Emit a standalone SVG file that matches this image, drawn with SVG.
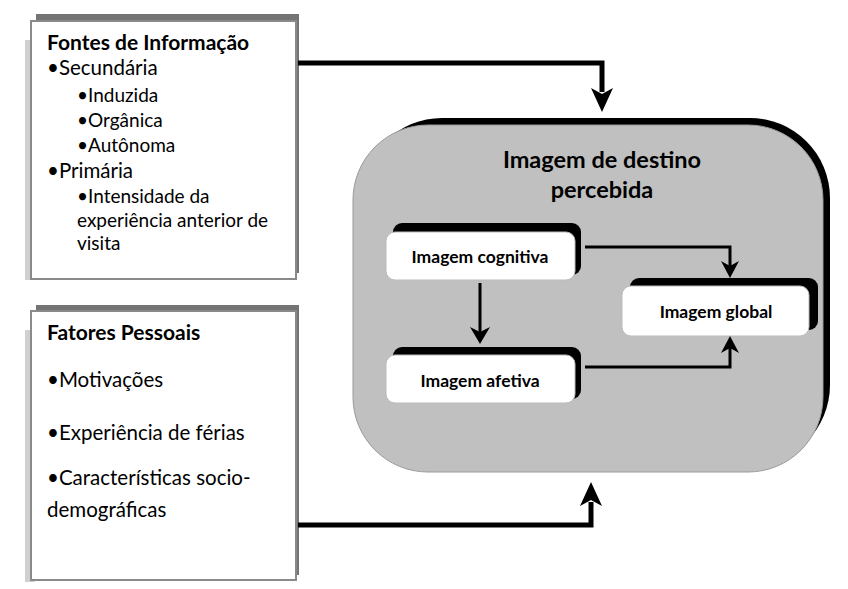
<svg xmlns="http://www.w3.org/2000/svg" width="848" height="589" viewBox="0 0 848 589">
<style>
.t{font-family:Lato,"Liberation Sans",sans-serif;fill:#000}
.b{font-weight:bold}
.sh{fill:#747474}
.lsh{fill:#d0d0d0}
.card{fill:#fff;stroke:#8a8a8a;stroke-width:2}
.blk{fill:#000}
.wbox{fill:#fff;stroke:#bbb;stroke-width:1}
.con{fill:none;stroke:#000;stroke-linejoin:miter}
.l1{font-size:20.5px}
.l2{font-size:19px}
.in{font-size:17.5px;font-weight:bold}
</style>
<rect width="848" height="589" fill="#fff"/>
<g id="fontes">
<rect class="lsh" x="25" y="40" width="10" height="240"/>
<rect class="sh" x="36" y="14" width="263" height="259"/>
<rect class="card" x="31" y="21" width="265" height="258"/>
<text class="t b" x="47" y="50" font-size="21">Fontes de Informação</text>
<text class="t l1" x="47" y="75">•Secundária</text>
<text class="t l2" x="77" y="102">•Induzida</text>
<text class="t l2" x="77" y="127">•Orgânica</text>
<text class="t l2" x="77" y="152">•Autônoma</text>
<text class="t l1" x="47" y="178">•Primária</text>
<text class="t l2" x="77" y="203">•Intensidade da</text>
<text class="t l2" x="77" y="227">experiência anterior de</text>
<text class="t l2" x="77" y="250">visita</text>
</g>
<g id="fatores">
<rect class="lsh" x="25" y="330" width="10" height="252"/>
<rect class="sh" x="36" y="305" width="263" height="270"/>
<rect class="card" x="31" y="311" width="265" height="269"/>
<text class="t b" x="47" y="340" font-size="21">Fatores Pessoais</text>
<text class="t l1" x="47" y="387">•Motivações</text>
<text class="t l1" x="47" y="440">•Experiência de férias</text>
<text class="t l1" x="47" y="485">•Características socio-</text>
<text class="t l1" x="47" y="517">demográficas</text>
</g>
<g id="imagem-destino">
<rect class="blk" x="362" y="118" width="468" height="347" rx="80"/>
<rect x="353" y="125" width="470" height="347" rx="75" fill="#c0c0c0" stroke="#9a9a9a" stroke-width="1"/>
<text class="t b" x="602" y="168" font-size="23.5" text-anchor="middle">Imagem de destino</text>
<text class="t b" x="602" y="198" font-size="23.5" text-anchor="middle">percebida</text>
</g>
<g id="cognitiva">
<rect class="blk" x="393" y="223" width="188" height="52" rx="9"/>
<rect class="wbox" x="386" y="232" width="189" height="48" rx="9"/>
<text class="t in" x="480" y="263" text-anchor="middle">Imagem cognitiva</text>
</g>
<g id="afetiva">
<rect class="blk" x="393" y="347" width="188" height="52" rx="9"/>
<rect class="wbox" x="386" y="355" width="189" height="48" rx="9"/>
<text class="t in" x="480" y="387" text-anchor="middle">Imagem afetiva</text>
</g>
<g id="global">
<rect class="blk" x="630" y="278" width="188" height="52" rx="9"/>
<rect class="wbox" x="622" y="286" width="187" height="50" rx="9"/>
<text class="t in" x="716" y="318" text-anchor="middle">Imagem global</text>
</g>
<g id="connectors">
<path class="con" stroke-width="5" d="M298 63 H602 V92"/>
<polygon class="blk" points="591,88 602,94 613,88 602,112"/>
<path class="con" stroke-width="5" d="M298 525 H591 V502"/>
<polygon class="blk" points="580,506 591,500 602,506 591,482"/>
<path class="con" stroke-width="3" d="M480 283 V332"/>
<polygon class="blk" points="470,327 480,332 490,327 480,344"/>
<path class="con" stroke-width="3" d="M585 247 H730 V266"/>
<polygon class="blk" points="721,261 730,266 739,261 730,278"/>
<path class="con" stroke-width="3" d="M585 367 H730 V348"/>
<polygon class="blk" points="721,353 730,348 739,353 730,336"/>
</g>
</svg>
